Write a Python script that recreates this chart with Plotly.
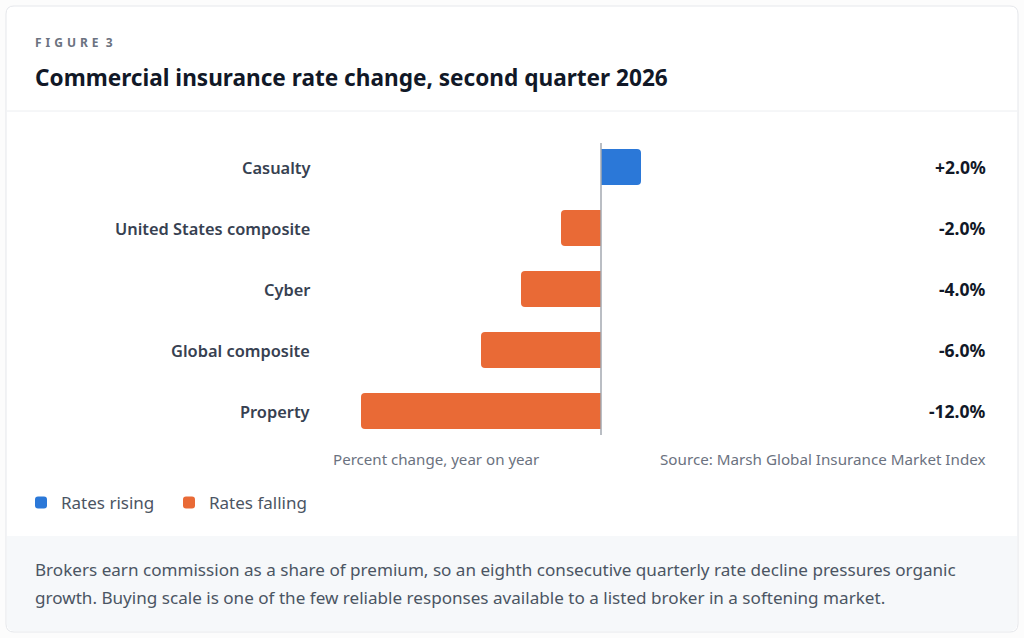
import plotly.graph_objects as go

W, H = 1024, 638

categorias = ['Casualty', 'United States composite', 'Cyber', 'Global composite', 'Property']
variacao = [2.0, -2.0, -4.0, -6.0, -12.0]

AZUL = '#2b78d8'
LARANJA = '#e96a36'
FONTE = 'Noto Sans'


def px_x(x):
    return x / W


def px_y(y):
    return 1 - y / H


sobe = [v if v > 0 else None for v in variacao]
desce = [v if v <= 0 else None for v in variacao]

fig = go.Figure()
fig.add_trace(go.Bar(y=categorias, x=sobe, orientation='h', name='Rates rising',
                     marker=dict(color=AZUL, cornerradius=4, line_width=0), hoverinfo='skip'))
fig.add_trace(go.Bar(y=categorias, x=desce, orientation='h', name='Rates falling',
                     marker=dict(color=LARANJA, cornerradius=4, line_width=0), hoverinfo='skip'))

# cartão, cabeçalho e rodapé
card = 'M 14,6 H 1010 Q 1018,6 1018,14 V 624 Q 1018,632 1010,632 H 14 Q 6,632 6,624 V 14 Q 6,6 14,6 Z'
rodape = 'M 7,536 H 1017 V 624 Q 1017,631 1010,631 H 14 Q 7,631 7,624 Z'


def path_paper(p):
    # converte coordenadas em pixels para papel
    out = []
    toks = p.replace(',', ' ').split()
    i = 0
    modo = None
    while i < len(toks):
        t = toks[i]
        if t.isalpha():
            modo = t
            out.append(t)
            i += 1
            continue
        if modo == 'H':
            out.append(f'{px_x(float(t)):.5f}')
            i += 1
        elif modo == 'V':
            out.append(f'{px_y(float(t)):.5f}')
            i += 1
        else:
            out.append(f'{px_x(float(t)):.5f},{px_y(float(toks[i + 1])):.5f}')
            i += 2
    return ' '.join(out)


shapes = [
    dict(type='path', xref='paper', yref='paper', path=path_paper(card),
         fillcolor='white', line=dict(color='#e5e7eb', width=1), layer='below'),
    dict(type='path', xref='paper', yref='paper', path=path_paper(rodape),
         fillcolor='#f6f8fa', line=dict(width=0), layer='below'),
    dict(type='line', xref='paper', yref='paper', x0=px_x(7), x1=px_x(1017),
         y0=px_y(111), y1=px_y(111), line=dict(color='#eceef1', width=1)),
    dict(type='line', xref='x', yref='paper', x0=0, x1=0,
         y0=px_y(143), y1=px_y(435), line=dict(color='#a3a8b0', width=1.5)),
]

# anotações do plotly têm ~2px de folga interna
ESQ, DIR = 33, 988

esp = '\u2004'
annotations = [
    dict(text=esp.join('FIGURE') + esp + ' 3', x=px_x(ESQ), y=px_y(42),
         font=dict(size=12, color='#6b7280', family=FONTE, weight=700)),
    dict(text='Commercial insurance rate change, second quarter 2026', x=px_x(ESQ), y=px_y(77),
         font=dict(size=22.6, color='#111827', family=FONTE, weight=700)),
    dict(text='Percent change, year on year', x=px_x(331), y=px_y(459),
         font=dict(size=15.1, color='#6b7280', family=FONTE)),
    dict(text='Source: Marsh Global Insurance Market Index', x=px_x(DIR), y=px_y(459), xanchor='right',
         font=dict(size=15.2, color='#6b7280', family=FONTE)),
    dict(text='Brokers earn commission as a share of premium, so an eighth consecutive quarterly rate decline pressures organic',
         x=px_x(ESQ), y=px_y(569), font=dict(size=17.1, color='#4b5563', family=FONTE)),
    dict(text='growth. Buying scale is one of the few reliable responses available to a listed broker in a softening market.',
         x=px_x(ESQ), y=px_y(597), font=dict(size=17.1, color='#4b5563', family=FONTE)),
]
for a in annotations:
    a.setdefault('xanchor', 'left')
    a.update(xref='paper', yref='paper', yanchor='middle', showarrow=False)

for cat, v in zip(categorias, variacao):
    annotations.append(dict(text=cat, x=px_x(312), y=cat, xref='paper', yref='y',
                            xanchor='right', yanchor='middle', showarrow=False,
                            font=dict(size=16.4, color='#374151', family=FONTE, weight=600)))
    annotations.append(dict(text=f'{v:+.1f}%', x=px_x(DIR), y=cat, xref='paper', yref='y',
                            xanchor='right', yanchor='middle', showarrow=False,
                            font=dict(size=17.5, color='#111827', family=FONTE, weight=700)))

fig.update_layout(
    width=W, height=H,
    margin=dict(l=0, r=0, t=0, b=0),
    paper_bgcolor='#fcfcfc', plot_bgcolor='rgba(0,0,0,0)',
    font=dict(family=FONTE),
    barmode='overlay', bargap=0.41,
    shapes=shapes, annotations=annotations,
    showlegend=True,
    legend=dict(orientation='h', x=px_x(21), y=px_y(503), xanchor='left', yanchor='middle',
                font=dict(size=17, color='#4b5563', family=FONTE), bgcolor='rgba(0,0,0,0)',
                entrywidth=103, itemclick=False, itemdoubleclick=False),
    xaxis=dict(domain=[px_x(333), px_x(869)], range=[-13.4, 13.4], visible=False, fixedrange=True),
    yaxis=dict(domain=[px_y(441.5), px_y(136.5)], range=[4.5, -0.5], visible=False, fixedrange=True,
               type='category', categoryorder='array', categoryarray=categorias),
)

fig.write_html('out.html', config={'displayModeBar': False},
               post_script="document.body.style.margin='0';")
